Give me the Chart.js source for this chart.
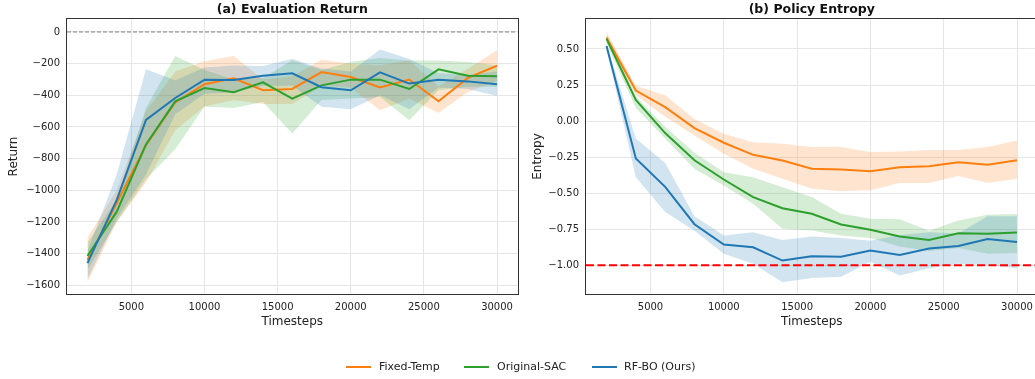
<!DOCTYPE html>
<html>
<head>
<meta charset="utf-8">
<script src="https://cdn.jsdelivr.net/npm/chart.js@4.4.1/dist/chart.umd.min.js"></script>
<style>
  html, body { margin:0; padding:0; width:1035px; height:379px; overflow:hidden; background:#fff; font-family:"DejaVu Sans", sans-serif; }
  canvas { position:absolute; top:0; }
  #c1 { left:0; }
  #c2 { left:520px; }
  .leg-line { position:absolute; height:2px; width:25px; top:366px; }
  .leg-text { position:absolute; top:359px; font-size:11px; color:#222; line-height:15px; white-space:nowrap; }
</style>
</head>
<body>
<canvas id="c1" width="520" height="379"></canvas>
<canvas id="c2" width="520" height="379"></canvas>
<div id="legend"></div>
<script>
// ---------- data ----------
const timesteps = [2000,4000,6000,8000,10000,12000,14000,16000,18000,20000,22000,24000,26000,28000,30000];
const seriesNames = ['Fixed-Temp','Original-SAC','RF-BO (Ours)'];
const xTicks = [5000,10000,15000,20000,25000,30000];
const returnTicks = [-1600,-1400,-1200,-1000,-800,-600,-400,-200,0];
const entropyTicks = [-1.00,-0.75,-0.50,-0.25,0.00,0.25,0.50];

// (a) Evaluation Return
const fixedReturn   = [-1440,-1080,-715,-444,-330,-293,-368,-360,-253,-284,-350,-300,-438,-290,-213];
const fixedReturnUp = [-1300,-1000,-500,-250,-185,-151,-300,-280,-175,-200,-210,-180,-345,-232,-116];
const fixedReturnLo = [-1580,-1200,-950,-620,-470,-430,-455,-455,-340,-350,-495,-420,-511,-379,-310];

const sacReturn   = [-1415,-1135,-710,-438,-354,-381,-318,-421,-337,-301,-301,-360,-236,-276,-280];
const sacReturnUp = [-1330,-1060,-480,-151,-240,-300,-290,-179,-240,-189,-164,-180,-180,-189,-210];
const sacReturnLo = [-1500,-1200,-930,-740,-470,-480,-442,-642,-430,-420,-410,-558,-368,-346,-346];

const rfboReturn   = [-1460,-1060,-555,-417,-301,-303,-276,-261,-349,-368,-255,-326,-301,-312,-330];
const rfboReturnUp = [-1380,-900,-236,-305,-225,-211,-215,-169,-230,-250,-110,-170,-260,-270,-250];
const rfboReturnLo = [-1560,-1180,-900,-520,-390,-380,-340,-340,-473,-488,-400,-488,-350,-360,-405];

// (b) Policy Entropy
const fixedEntropy   = [0.58,0.212,0.097,-0.048,-0.150,-0.234,-0.273,-0.331,-0.336,-0.347,-0.320,-0.313,-0.286,-0.302,-0.272];
const fixedEntropyUp = [0.62,0.245,0.180,0.015,-0.088,-0.146,-0.157,-0.180,-0.180,-0.215,-0.210,-0.200,-0.200,-0.180,-0.135];
const fixedEntropyLo = [0.55,0.180,0.030,-0.100,-0.226,-0.330,-0.400,-0.470,-0.486,-0.480,-0.430,-0.430,-0.380,-0.430,-0.400];

const sacEntropy   = [0.57,0.147,-0.083,-0.272,-0.405,-0.527,-0.604,-0.643,-0.717,-0.754,-0.800,-0.824,-0.778,-0.782,-0.773];
const sacEntropyUp = [0.60,0.170,-0.040,-0.220,-0.355,-0.389,-0.458,-0.527,-0.643,-0.678,-0.680,-0.760,-0.690,-0.650,-0.645];
const sacEntropyLo = [0.54,0.090,-0.120,-0.330,-0.447,-0.574,-0.747,-0.759,-0.794,-0.810,-0.870,-0.900,-0.880,-0.920,-0.915];

const rfboEntropy   = [0.52,-0.260,-0.456,-0.715,-0.856,-0.875,-0.967,-0.937,-0.940,-0.898,-0.928,-0.884,-0.866,-0.817,-0.838];
const rfboEntropyUp = [0.535,-0.120,-0.290,-0.660,-0.794,-0.770,-0.824,-0.800,-0.810,-0.830,-0.790,-0.770,-0.780,-0.660,-0.660];
const rfboEntropyLo = [0.50,-0.390,-0.630,-0.760,-0.920,-0.990,-1.118,-1.088,-1.080,-0.975,-1.070,-1.020,-0.990,-1.000,-1.020];

const returnRef = 0;
const entropyTarget = -1.0;

// ---------- styling ----------
const colors = ['#ff7f0e','#2ca02c','#1f77b4'];
const bands  = ['rgba(255,127,14,0.2)','rgba(44,160,44,0.2)','rgba(31,119,180,0.2)'];
const FONT = '"DejaVu Sans", sans-serif';
const TEXT = '#222';
const GRID = '#e6e6e6';

function pts(vals){ return timesteps.map((t,i)=>({x:t,y:vals[i]})); }
function minusFmt(s){ return s.replace('-', '\u2212'); }

function buildDatasets(lines, ups, los){
  const ds = [];
  for (let k=0;k<3;k++){
    ds.push({label:seriesNames[k]+' up', data:pts(ups[k]), borderWidth:0, pointRadius:0, fill:'+1', backgroundColor:bands[k], order:6-k, tension:0});
    ds.push({label:seriesNames[k]+' lo', data:pts(los[k]), borderWidth:0, pointRadius:0, fill:false, order:6-k, tension:0});
  }
  for (let k=0;k<3;k++){
    ds.push({label:seriesNames[k], data:pts(lines[k]), borderColor:colors[k], borderWidth:2, pointRadius:0, fill:false, order:3-k, tension:0});
  }
  return ds;
}

const decor = {
  id:'decor',
  afterDatasetsDraw(chart, args, o){
    const {ctx, chartArea:a, scales} = chart;
    const y = scales.y.getPixelForValue(o.refValue);
    ctx.save();
    ctx.beginPath();
    ctx.rect(a.left, a.top, a.right-a.left, a.bottom-a.top);
    ctx.clip();
    ctx.strokeStyle = o.refColor;
    ctx.lineWidth = o.refWidth;
    ctx.setLineDash(o.refDash);
    ctx.beginPath();
    ctx.moveTo(a.left, y);
    ctx.lineTo(a.right, y);
    ctx.stroke();
    ctx.restore();
    ctx.save();
    ctx.strokeStyle = '#333';
    ctx.lineWidth = 1;
    ctx.strokeRect(Math.round(a.left)-0.5, Math.round(a.top)-0.5, Math.round(a.right-a.left)+1, Math.round(a.bottom-a.top)+1);
    ctx.restore();
  },
  afterDraw(chart, args, o){
    const {ctx, chartArea:a} = chart;
    ctx.save();
    ctx.font = 'bold 12.5px ' + FONT;
    ctx.fillStyle = '#111';
    ctx.textAlign = 'center';
    ctx.textBaseline = 'middle';
    ctx.fillText(o.title, (a.left+a.right)/2, 10);
    ctx.restore();
  }
};

function makeChart(id, cfg){
  return new Chart(document.getElementById(id), {
    type:'line',
    data:{datasets: buildDatasets(cfg.lines, cfg.ups, cfg.los)},
    options:{
      responsive:false, animation:false, devicePixelRatio:1,
      layout:{padding:{top:19, left:0, right:cfg.padRight, bottom:0}},
      plugins:{
        legend:{display:false}, tooltip:{enabled:false}, title:{display:false},
        decor:{title:cfg.title, refValue:cfg.refValue, refColor:cfg.refColor, refWidth:cfg.refWidth, refDash:cfg.refDash}
      },
      scales:{
        x:{
          type:'linear', min:600, max:31400,
          afterBuildTicks: s => { s.ticks = xTicks.map(v=>({value:v})); },
          afterFit: s => { s.height = 85; },
          grid:{color:GRID, lineWidth:1, drawTicks:false},
          border:{display:false},
          ticks:{font:{family:FONT, size:10}, color:TEXT, padding:7, maxRotation:0, autoSkip:false, callback: v => String(v)},
          title:{display:true, text:'Timesteps', font:{family:FONT, size:12}, color:TEXT, padding:{top:0, bottom:50}}
        },
        y:{
          type:'linear', min:cfg.yMin, max:cfg.yMax,
          afterBuildTicks: s => { s.ticks = cfg.yTicks.map(v=>({value:v})); },
          afterFit: s => { s.width = cfg.yWidth; },
          grid:{color:GRID, lineWidth:1, drawTicks:false},
          border:{display:false},
          ticks:{font:{family:FONT, size:10}, color:TEXT, padding:7, autoSkip:false, callback: cfg.fmt},
          title:{display:true, text:cfg.yLabel, font:{family:FONT, size:12}, color:TEXT, padding:{top:cfg.yTitlePad, bottom:0}}
        }
      }
    },
    plugins:[decor]
  });
}

makeChart('c1', {
  title:'(a) Evaluation Return', yLabel:'Return',
  lines:[fixedReturn, sacReturn, rfboReturn],
  ups:[fixedReturnUp, sacReturnUp, rfboReturnUp],
  los:[fixedReturnLo, sacReturnLo, rfboReturnLo],
  yMin:-1655, yMax:82, yTicks:returnTicks, yWidth:67, yTitlePad:7, padRight:1,
  fmt: v => minusFmt(String(v)),
  refValue:returnRef, refColor:'#808080', refWidth:1, refDash:[4,2]
});

makeChart('c2', {
  title:'(b) Policy Entropy', yLabel:'Entropy',
  lines:[fixedEntropy, sacEntropy, rfboEntropy],
  ups:[fixedEntropyUp, sacEntropyUp, rfboEntropyUp],
  los:[fixedEntropyLo, sacEntropyLo, rfboEntropyLo],
  yMin:-1.199, yMax:0.708, yTicks:entropyTicks, yWidth:66, yTitlePad:11, padRight:2,
  fmt: v => minusFmt(Number(v).toFixed(2)),
  refValue:entropyTarget, refColor:'#ff0000', refWidth:2, refDash:[8,3.5]
});

// legend
const legPos = [[346,379],[464,497],[592,624]];
const leg = document.getElementById('legend');
seriesNames.forEach((n,k)=>{
  const l = document.createElement('div');
  l.className='leg-line'; l.style.left=legPos[k][0]+'px'; l.style.background=colors[k];
  const t = document.createElement('div');
  t.className='leg-text'; t.style.left=legPos[k][1]+'px'; t.textContent=n;
  leg.appendChild(l); leg.appendChild(t);
});
</script>
</body>
</html>
